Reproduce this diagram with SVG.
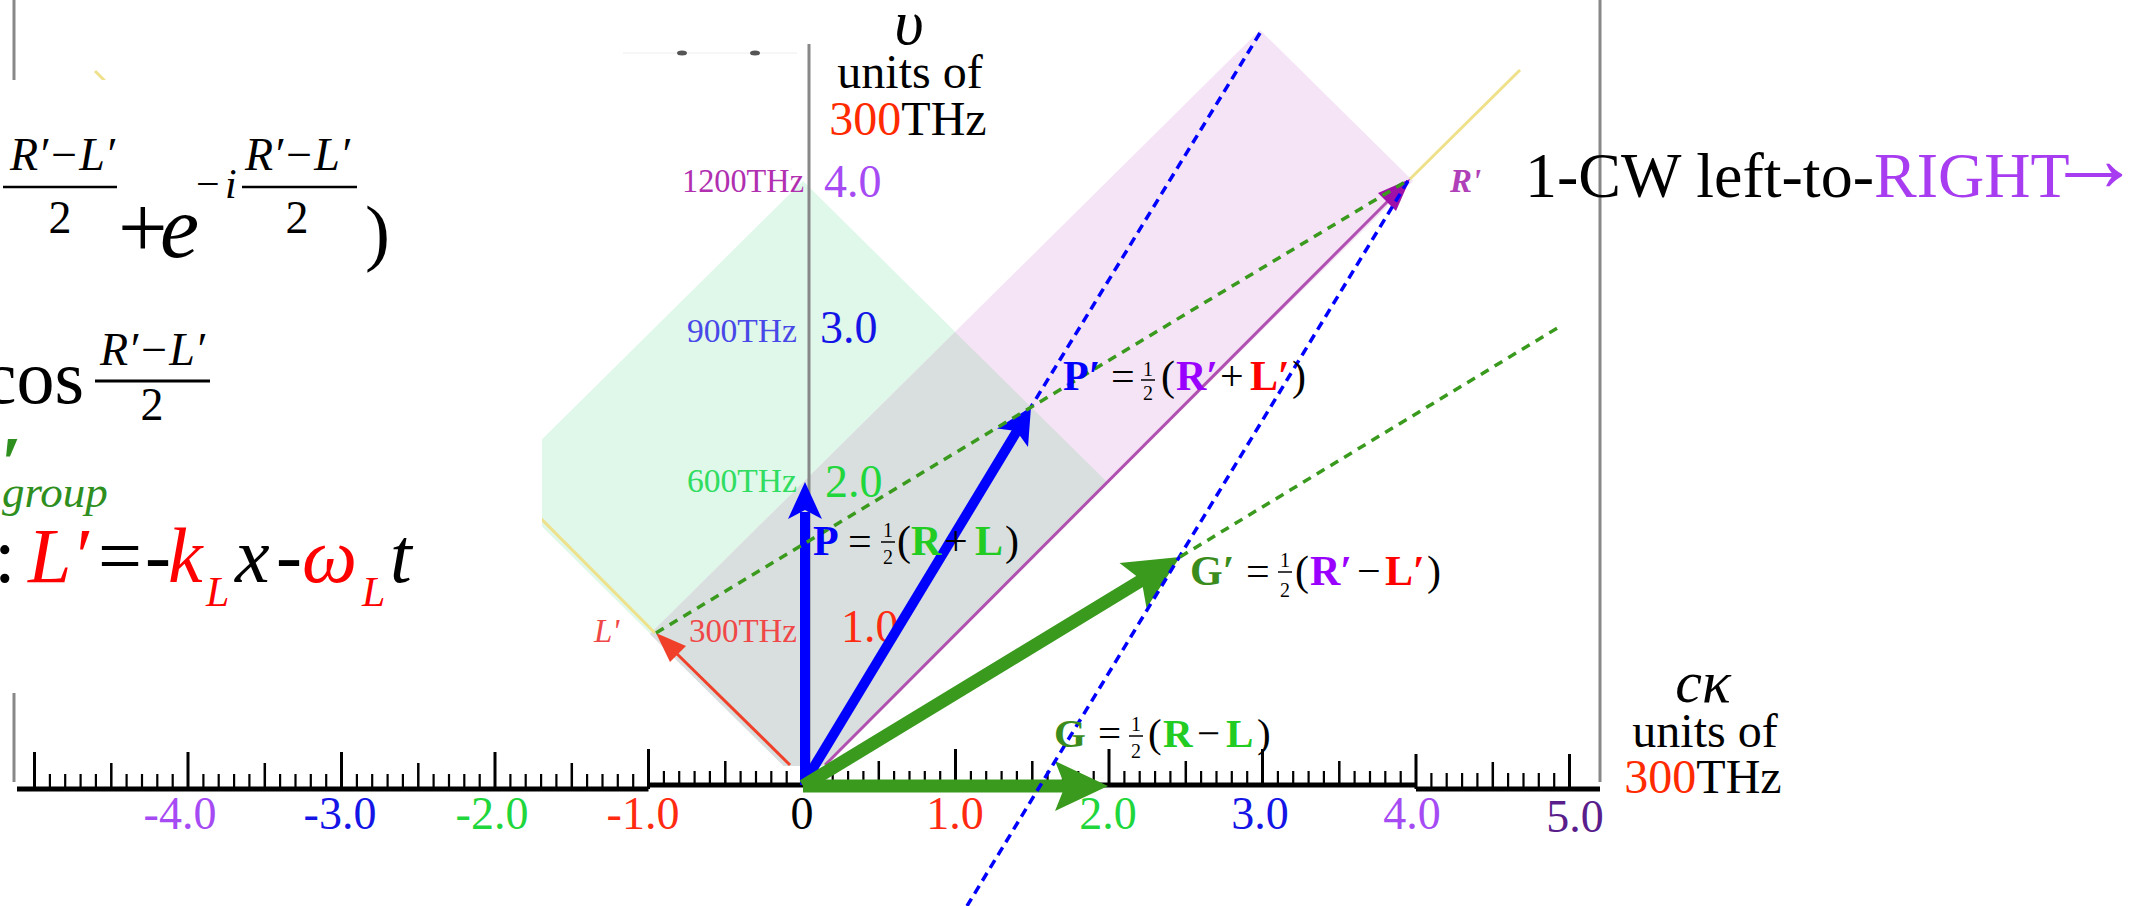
<svg xmlns="http://www.w3.org/2000/svg" width="2138" height="906" viewBox="0 0 2138 906">
<style>
.s{font-family:'Liberation Serif','Times New Roman',serif}
.i{font-style:italic}
.b{font-weight:bold}
.gl{stroke:#888;stroke-width:3;fill:none}
.tk{stroke:#000;fill:none}
.bd{stroke:#0000ff;stroke-width:3.5;stroke-dasharray:9 6;fill:none}
.gd{stroke:#3a9a1e;stroke-width:3.5;stroke-dasharray:9 7;fill:none}
.yl{stroke:#efe08a;stroke-width:3;fill:none}
</style>
<rect width="2138" height="906" fill="#fff"/>
<g id="regions">
<polygon points="803,785 1108,483 803,181 498,483" fill="#dff8ea"/>
<polygon points="803,785 1413,181 1260,30 650,634" fill="#f4e4f5"/>
<polygon points="803,785 1108,483 955,332 650,634" fill="#d9dfde"/>
</g>
<g id="lightlines">
<line class="yl" x1="655" y1="633" x2="95" y2="71"/>
<line class="yl" x1="1410" y1="179" x2="1520" y2="70"/>
</g>
<g id="vecLp">
<line x1="790" y1="765" x2="672" y2="649" stroke="#f0402a" stroke-width="3"/>
<polygon points="656,633 686,646 670,662" fill="#f0402a"/>
</g>
<g id="vecRp">
<line x1="825" y1="765" x2="1390" y2="199" stroke="#b050b0" stroke-width="3"/>
<polygon points="1410,179 1396,211 1378,193" fill="#a010a8"/>
</g>
<rect id="cover" x="0" y="80" width="542" height="613" fill="#fff"/>
<rect id="ruler" x="16" y="766" width="1584" height="30" fill="#fff"/>
<g id="frame">
<line class="gl" x1="809" y1="44" x2="809" y2="785"/>
<line class="gl" x1="1600" y1="0" x2="1600" y2="782"/>
<line class="gl" x1="14" y1="0" x2="14" y2="80"/>
<line class="gl" x1="14" y1="693" x2="14" y2="782"/>
<line x1="623" y1="53" x2="797" y2="53" stroke="#eee" stroke-width="1"/>
<ellipse cx="682" cy="53" rx="5" ry="2.5" fill="#555"/>
<ellipse cx="755" cy="53" rx="5" ry="2.5" fill="#555"/>
</g>
<g id="axis">
<path class="tk" stroke-width="5" d="M17 789H648.5M648.5 785H1416M1416 789H1600"/>
<path class="tk" stroke-width="3" d="M34.5 789V752M188 789V752M341.5 789V752M495 789V752M648.5 789V749M802 785V749M955.5 785V749M1109 785V749M1262.5 785V749M1416 789V754M1569.5 789V754"/>
<path class="tk" stroke-width="2.5" d="M111.3 789V763M264.8 789V763M418.3 789V763M571.8 789V763M725.3 785V761M878.8 785V761M1032.3 785V761M1185.8 785V761M1339.3 785V761M1492.8 789V762"/>
<path class="tk" stroke-width="2.2" d="M49.9 789V774M65.2 789V774M80.6 789V774M95.9 789V774M126.6 789V774M142 789V774M157.3 789V774M172.7 789V774M203.4 789V774M218.7 789V774M234.1 789V774M249.4 789V774M280.1 789V774M295.5 789V774M310.8 789V774M326.2 789V774M356.9 789V774M372.2 789V774M387.6 789V774M402.9 789V774M433.6 789V774M449 789V774M464.3 789V774M479.7 789V774M510.4 789V774M525.7 789V774M541.1 789V774M556.4 789V774M587.1 789V774M602.5 789V774M617.8 789V774M633.2 789V774"/>
<path class="tk" stroke-width="2.2" d="M663.9 785V771M679.2 785V771M694.6 785V771M709.9 785V771M740.6 785V771M756 785V771M771.3 785V771M786.7 785V771M817.4 785V771M832.7 785V771M848.1 785V771M863.4 785V771M894.1 785V771M909.5 785V771M924.8 785V771M940.2 785V771M970.9 785V771M986.2 785V771M1001.6 785V771M1016.9 785V771M1047.6 785V771M1063 785V771M1078.3 785V771M1093.7 785V771M1124.4 785V771M1139.7 785V771M1155.1 785V771M1170.4 785V771M1201.1 785V771M1216.5 785V771M1231.8 785V771M1247.2 785V771M1277.9 785V771M1293.2 785V771M1308.6 785V771M1323.9 785V771M1354.6 785V771M1370 785V771M1385.3 785V771M1400.7 785V771"/>
<path class="tk" stroke-width="2.2" d="M1431.4 789V773M1446.7 789V773M1462.1 789V773M1477.4 789V773M1508.1 789V773M1523.5 789V773M1538.8 789V773M1554.2 789V773"/>
</g>
<g id="ticklabels" class="s" font-size="46" text-anchor="middle">
<text x="180" y="829" fill="#a64bf4">-4.0</text>
<text x="340" y="829" fill="#1414e6">-3.0</text>
<text x="492" y="829" fill="#1fd63c">-2.0</text>
<text x="643" y="829" fill="#ff2a10">-1.0</text>
<text x="802" y="829" fill="#000">0</text>
<text x="955" y="829" fill="#ff2a10">1.0</text>
<text x="1108" y="829" fill="#1fd63c">2.0</text>
<text x="1260" y="829" fill="#1414e6">3.0</text>
<text x="1412" y="829" fill="#a64bf4">4.0</text>
<text x="1575" y="832" fill="#5a1e8c">5.0</text>
</g>
<g id="vlabels" class="s">
<text x="824" y="197" font-size="46" fill="#a64bf4">4.0</text>
<text x="820" y="343" font-size="46" fill="#1414e6">3.0</text>
<text x="825" y="497" font-size="46" fill="#1fd63c">2.0</text>
<text x="841" y="642" font-size="46" fill="#ff2a10">1.0</text>
<text x="682" y="192" font-size="33" fill="#b030b0" textLength="122" lengthAdjust="spacingAndGlyphs">1200THz</text>
<text x="687" y="342" font-size="33" fill="#4848e8" textLength="110" lengthAdjust="spacingAndGlyphs">900THz</text>
<text x="687" y="492" font-size="33" fill="#30dd60" textLength="110" lengthAdjust="spacingAndGlyphs">600THz</text>
<text x="689" y="642" font-size="33" fill="#f04848" textLength="108" lengthAdjust="spacingAndGlyphs">300THz</text>
<text x="594" y="642" font-size="33" class="i" fill="#f04848">L'</text>
<text x="1450" y="192" font-size="33" class="i b" fill="#b040b8">R'</text>
</g>
<g id="vaxisTitle" class="s" text-anchor="middle">
<text x="909" y="44" font-size="64" class="i">υ</text>
<text x="910" y="88" font-size="48">units of</text>
<text x="908" y="135" font-size="48"><tspan fill="#ff2a00">300</tspan>THz</text>
</g>
<g id="haxisTitle" class="s" text-anchor="middle">
<text x="1703" y="702" font-size="60" class="i">cκ</text>
<text x="1705" y="747" font-size="48">units of</text>
<text x="1703" y="793" font-size="48"><tspan fill="#ff2a00">300</tspan>THz</text>
</g>
<g id="vecP">
<line x1="805" y1="785" x2="805" y2="512" stroke="#0000ff" stroke-width="10"/>
<polygon points="805,482 822,519 805,510 788,519" fill="#0000ff"/>
</g>
<g id="vecPp">
<line x1="806" y1="780" x2="1017" y2="431" stroke="#0000ff" stroke-width="10"/>
<polygon points="1031,407 1028,447 1016.5,431 997,428.5" fill="#0000ff"/>
</g>
<g id="vecG">
<line x1="803" y1="786" x2="1068" y2="786" stroke="#3a9a1e" stroke-width="13"/>
<polygon points="1108,786 1055,811 1065,786 1055,761" fill="#3a9a1e"/>
</g>
<g id="vecGp">
<line x1="803" y1="786" x2="1142" y2="580" stroke="#3a9a1e" stroke-width="13"/>
<polygon points="1180,557 1146.5,608 1141.5,580 1119.5,563" fill="#3a9a1e"/>
</g>
<g id="connectors">
<line class="bd" x1="1260" y1="33" x2="1031" y2="407"/>
<line class="bd" x1="1408" y1="181" x2="967" y2="906"/>
<line class="gd" x1="656" y1="633" x2="1410" y2="179"/>
<line class="gd" x1="1180" y1="557" x2="1559" y2="327"/>
</g>
<g id="labelP" class="s" font-size="42">
<text x="813" y="555" class="b" fill="#0000ff">P</text>
<text x="848" y="555">=</text>
<text x="888" y="537" font-size="20" text-anchor="middle">1</text>
<line x1="881" y1="542" x2="895" y2="542" stroke="#000" stroke-width="1.5"/>
<text x="888" y="564" font-size="20" text-anchor="middle">2</text>
<text x="897" y="555">(</text>
<text x="911" y="555" class="b" fill="#22cc22">R</text>
<text x="944" y="555">+</text>
<text x="975" y="555" class="b" fill="#22cc22">L</text>
<text x="1005" y="555">)</text>
</g>
<g id="labelPp" class="s" font-size="42">
<text x="1063" y="390" class="b" fill="#0000ff">P′</text>
<text x="1111" y="390">=</text>
<text x="1148" y="376" font-size="20" text-anchor="middle">1</text>
<line x1="1141" y1="380" x2="1155" y2="380" stroke="#000" stroke-width="1.5"/>
<text x="1148" y="400" font-size="20" text-anchor="middle">2</text>
<text x="1161" y="390">(</text>
<text x="1176" y="390" class="b" fill="#9900ff">R′</text>
<text x="1220" y="390">+</text>
<text x="1250" y="390" class="b" fill="#ff0000">L′</text>
<text x="1292" y="390">)</text>
</g>
<g id="labelGp" class="s" font-size="42">
<text x="1190" y="585" class="b" fill="#3a8c1c">G′</text>
<text x="1246" y="585">=</text>
<text x="1285" y="567" font-size="20" text-anchor="middle">1</text>
<line x1="1278" y1="572" x2="1292" y2="572" stroke="#000" stroke-width="1.5"/>
<text x="1285" y="597" font-size="20" text-anchor="middle">2</text>
<text x="1295" y="585">(</text>
<text x="1310" y="585" class="b" fill="#9900ff">R′</text>
<text x="1357" y="585">−</text>
<text x="1385" y="585" class="b" fill="#ff0000">L′</text>
<text x="1427" y="585">)</text>
</g>
<g id="labelG" class="s" font-size="41">
<text x="1054" y="747" class="b" fill="#3a8c1c">G</text>
<text x="1098" y="747">=</text>
<text x="1136" y="731" font-size="20" text-anchor="middle">1</text>
<line x1="1129" y1="736" x2="1143" y2="736" stroke="#000" stroke-width="1.5"/>
<text x="1136" y="758" font-size="20" text-anchor="middle">2</text>
<text x="1148" y="747">(</text>
<text x="1163" y="747" class="b" fill="#22cc22">R</text>
<text x="1197" y="747">−</text>
<text x="1226" y="747" class="b" fill="#22cc22">L</text>
<text x="1257" y="747">)</text>
</g>
<g id="title" class="s" font-size="64">
<text x="1525" y="197">1-CW left-to-<tspan fill="#a83cf0">RIGHT</tspan><tspan fill="#a83cf0" font-size="96" dx="-24" dy="-6">→</tspan></text>
</g>
<g id="eq1" class="s">
<text x="10" y="170" font-size="46" class="i">R′−L′</text>
<line x1="3" y1="187" x2="117" y2="187" stroke="#000" stroke-width="2.5"/>
<text x="60" y="233" font-size="46" text-anchor="middle">2</text>
<text x="118" y="257" font-size="88">+</text>
<text x="160" y="257" font-size="88" class="i">e</text>
<text x="196" y="198" font-size="42">−</text>
<text x="225" y="198" font-size="42" class="i">i</text>
<text x="245" y="170" font-size="46" class="i">R′−L′</text>
<line x1="242" y1="187" x2="357" y2="187" stroke="#000" stroke-width="2.5"/>
<text x="297" y="233" font-size="46" text-anchor="middle">2</text>
<text x="365" y="257" font-size="75">)</text>
</g>
<g id="eq2" class="s">
<text x="84" y="403" font-size="76" text-anchor="end">cos</text>
<text x="100" y="365" font-size="46" class="i">R′−L′</text>
<line x1="95" y1="381" x2="210" y2="381" stroke="#000" stroke-width="3"/>
<text x="152" y="420" font-size="46" text-anchor="middle">2</text>
<text x="0" y="488" font-size="75" class="b i" fill="#2e8e1e">′</text>
<text x="2" y="507" font-size="45" class="i" fill="#2e8e1e">group</text>
</g>
<g id="eq3" class="s" font-size="78">
<text x="-6" y="582">:</text>
<text x="28" y="582" class="i" fill="#ff0000">L′</text>
<text x="98" y="582">=</text>
<text x="145" y="582">-</text>
<text x="168" y="582" class="i" fill="#ff0000">k</text>
<text x="206" y="606" font-size="42" class="i" fill="#ff0000">L</text>
<text x="235" y="582" class="i">x</text>
<text x="276" y="582">-</text>
<text x="302" y="582" class="i" fill="#ff0000">ω</text>
<text x="362" y="606" font-size="42" class="i" fill="#ff0000">L</text>
<text x="390" y="582" class="i">t</text>
</g>
</svg>
